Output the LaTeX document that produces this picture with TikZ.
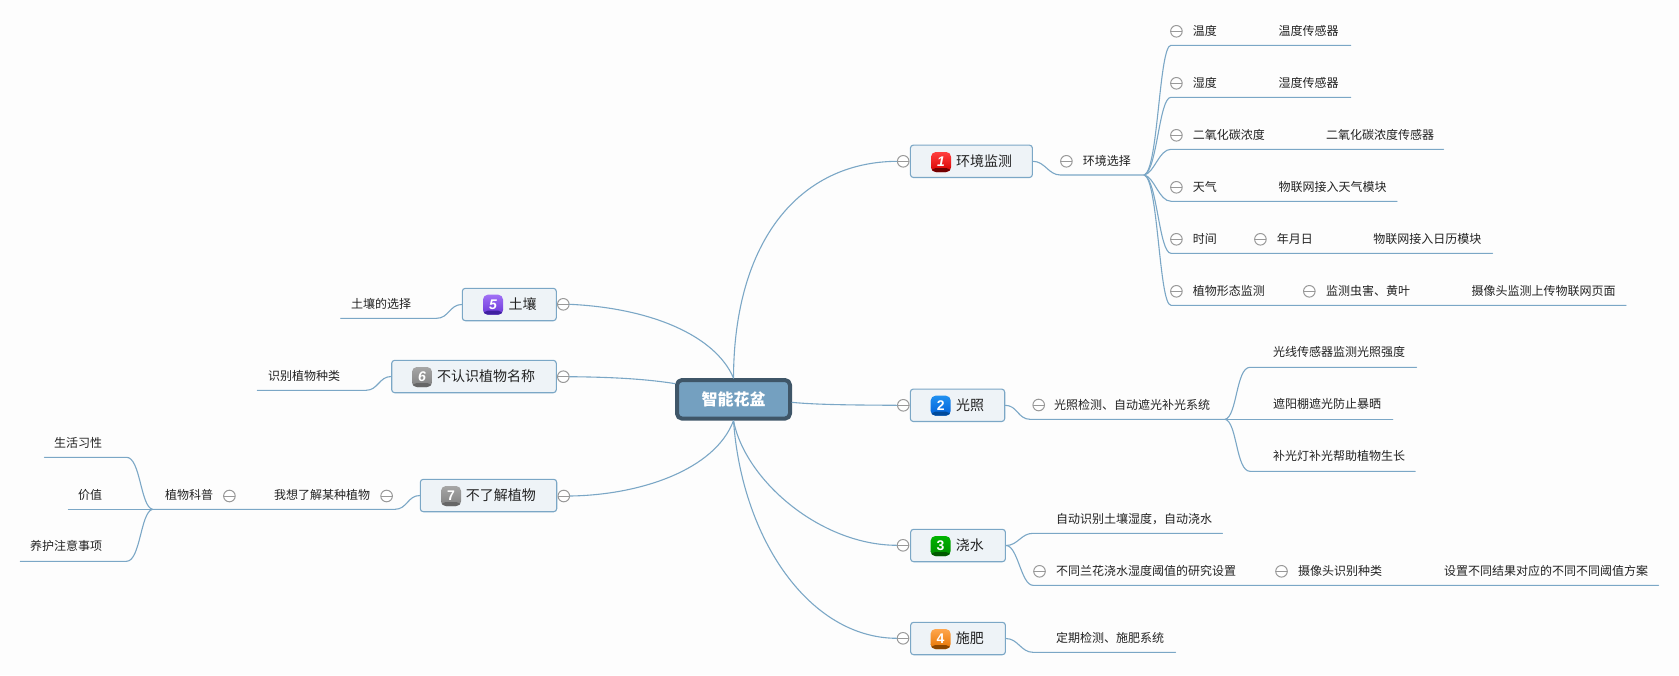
\documentclass[tikz,border=0pt]{standalone}
\usepackage{fontspec}
\setmainfont{Noto Sans CJK SC}
\newfontfamily\iconfont{Liberation Sans}
\definecolor{paper}{HTML}{FDFDFD}
\definecolor{wire}{HTML}{7BA7C6}
\definecolor{rootfill}{HTML}{74A0C0}
\definecolor{rootedge}{HTML}{3F5668}
\definecolor{boxfill}{HTML}{EEF3F7}
\definecolor{inktext}{HTML}{222222}
\definecolor{bluetop}{HTML}{2090F0}
\definecolor{bluelow}{HTML}{0060D8}
\definecolor{blueband}{HTML}{004A9A}
\definecolor{violettop}{HTML}{A070F5}
\definecolor{violetlow}{HTML}{6A35D8}
\definecolor{violetband}{HTML}{4020A0}
\tikzset{
  wireline/.style={line width=0.55pt,color=wire},
  rootbox/.style={draw=rootedge,fill=rootfill,line width=2pt,rounded corners=2.5pt,minimum width=56.5pt,minimum height=19.3pt,inner sep=0pt,text=white,font=\bfseries\fontsize{8}{8}\selectfont},
  mainbox/.style={draw=wire,fill=boxfill,line width=0.55pt,rounded corners=1.5pt,minimum height=16.2pt,inner sep=0pt},
  mainlabel/.style={anchor=west,inner sep=0pt,text=inktext,font=\fontsize{7}{7}\selectfont,text height=5.8pt,text depth=0.8pt},
  leaflabel/.style={anchor=west,inner sep=0pt,text=inktext,font=\fontsize{6}{6}\selectfont,text height=5pt,text depth=0.7pt},
  leftlabel/.style={leaflabel,anchor=east},
  minusmark/.style={circle,draw=gray!80,fill=white,line width=0.5pt,minimum size=5.8pt,inner sep=0pt,
    path picture={\draw[gray!80,line width=0.5pt] (path picture bounding box.west)--(path picture bounding box.east);}},
  iconmark/.style n args={3}{rounded corners=2.4pt,minimum size=10pt,inner sep=0pt,top color=#1,bottom color=#2,text=white,font=\iconfont\bfseries\fontsize{7}{7}\selectfont,
    path picture={\fill[#3] ([yshift=2pt]path picture bounding box.south west) rectangle (path picture bounding box.south east);}}
}
\begin{document}
\begin{tikzpicture}[line cap=round,line join=round,x=0.5pt,y=-0.5pt]
	\useasboundingbox (0,0) rectangle (1679,675);
	\fill[paper] (0,0) rectangle (1679,675);

	% root and main boxes
	\node[rootbox] (root) at (733.5,399.3) {智能花盆};
	\node[mainbox,minimum width=61pt] (env) at (971.4,161.3) {};
	\node[mainbox,minimum width=47.2pt] (light) at (957.5,405.3) {};
	\node[mainbox,minimum width=47.4pt] (water) at (958,545.5) {};
	\node[mainbox,minimum width=47.4pt] (fert) at (958,638.5) {};
	\node[mainbox,minimum width=47pt] (soil) at (509.3,304.5) {};
	\node[mainbox,minimum width=82.3pt] (name) at (474,376.5) {};
	\node[mainbox,minimum width=68.2pt] (know) at (488.5,495.5) {};

	\node[iconmark={red!75!white}{red!85!black}{red!45!black}] (ienv) at (941,162) {\itshape 1};
	\node[iconmark={bluetop}{bluelow}{blueband}] (ilight) at (940.7,405.7) {2};
	\node[iconmark={green!70!black}{green!55!black}{green!35!black}] (iwater) at (940.6,546) {3};
	\node[iconmark={orange!70!white}{orange!90!black}{orange!55!black}] (ifert) at (940.6,639) {4};
	\node[iconmark={violettop}{violetlow}{violetband}] (isoil) at (493,304.7) {\itshape 5};
	\node[iconmark={gray!70}{gray}{black!60}] (iname) at (422,377) {\itshape 6};
	\node[iconmark={gray!70}{gray}{black!60}] (iknow) at (451,496) {7};

	\node[mainlabel] (tenv) at (955.7,161) {环境监测};
	\node[mainlabel] (tlight) at (955.7,405) {光照};
	\node[mainlabel] (twater) at (955.4,545) {浇水};
	\node[mainlabel] (tfert) at (955.4,638) {施肥};
	\node[mainlabel] (tsoil) at (508.3,304) {土壤};
	\node[mainlabel] (tname) at (436.7,376) {不认识植物名称};
	\node[mainlabel] (tknow) at (465.4,495) {不了解植物};

	% collapse marks beside the boxes
	\node[minusmark] (menv) at (903.2,161.3) {};
	\node[minusmark] (mlight) at (903.3,405.3) {};
	\node[minusmark] (mwater) at (903,545.3) {};
	\node[minusmark] (mfert) at (903,638.3) {};
	\node[minusmark] (msoil) at (563.3,304.3) {};
	\node[minusmark] (mname) at (563.3,376.7) {};
	\node[minusmark] (mknow) at (563.8,496) {};

	% root to boxes
	\draw[wireline] (root.north) .. controls (734,240) and (800,162) .. (menv.west);
	\draw[wireline] (root.-3) .. controls (820,405) and (860,405) .. (mlight.west);
	\draw[wireline] (root.south) .. controls (745,480) and (820,545) .. (mwater.west);
	\draw[wireline] (root.south) .. controls (742,540) and (810,638) .. (mfert.west);
	\draw[wireline] (msoil.east) .. controls (650,308) and (715,335) .. (root.north);
	\draw[wireline] (mname.east) .. controls (600,377) and (640,378) .. (root.165);
	\draw[wireline] (mknow.east) .. controls (640,495) and (715,470) .. (root.south);

	% environment branch
	\node[leaflabel] (tpick) at (1082.5,161) {环境选择};
	\node[minusmark] (mpick) at (1066.4,161.3) {};
	\coordinate (pickstart) at (1060.4,175);
	\coordinate (pickhub) at (1144.3,175);
	\draw[wireline] (env.east) .. controls +(12,0) and +(-12,0) .. (pickstart) -- (pickhub);

	\node[minusmark] (m1) at (1176.4,31.3) {};
	\node[leaflabel] (t1) at (1192.5,31) {温度};
	\node[leaflabel] (u1) at (1278.2,31) {温度传感器};
	\coordinate (a1) at (1171,45.3);
	\coordinate (b1) at (1350.7,45.3);
	\draw[wireline] (pickhub) .. controls +(14,-5) and +(-12,0) .. (a1) -- (b1);

	\node[minusmark] (m2) at (1176.4,83.3) {};
	\node[leaflabel] (t2) at (1192.5,83) {湿度};
	\node[leaflabel] (u2) at (1278.2,83) {湿度传感器};
	\coordinate (a2) at (1171,97.3);
	\coordinate (b2) at (1350.7,97.3);
	\draw[wireline] (pickhub) .. controls +(13,-5) and +(-12,0) .. (a2) -- (b2);

	\node[minusmark] (m3) at (1176.4,135.3) {};
	\node[leaflabel] (t3) at (1192.5,135) {二氧化碳浓度};
	\node[leaflabel] (u3) at (1325.7,135) {二氧化碳浓度传感器};
	\coordinate (a3) at (1171,149.3);
	\coordinate (b3) at (1443.6,149.3);
	\draw[wireline] (pickhub) .. controls +(10,-2) and +(-12,0) .. (a3) -- (b3);

	\node[minusmark] (m4) at (1176.4,187.3) {};
	\node[leaflabel] (t4) at (1192.5,187) {天气};
	\node[leaflabel] (u4) at (1278.2,187) {物联网接入天气模块};
	\coordinate (a4) at (1171,201.3);
	\coordinate (b4) at (1397,201.3);
	\draw[wireline] (pickhub) .. controls +(10,2) and +(-12,0) .. (a4) -- (b4);

	\node[minusmark] (m5) at (1176.4,239.3) {};
	\node[leaflabel] (t5) at (1192.5,239) {时间};
	\node[minusmark] (n5) at (1260.4,239.3) {};
	\node[leaflabel] (u5) at (1276.4,239) {年月日};
	\node[leaflabel] (v5) at (1373,239) {物联网接入日历模块};
	\coordinate (a5) at (1171,253.3);
	\coordinate (b5) at (1492.5,253.3);
	\draw[wireline] (pickhub) .. controls +(13,5) and +(-12,0) .. (a5) -- (b5);

	\node[minusmark] (m6) at (1176.4,291.3) {};
	\node[leaflabel] (t6) at (1192.5,291) {植物形态监测};
	\node[minusmark] (n6) at (1309.3,291.3) {};
	\node[leaflabel] (u6) at (1325.7,291) {监测虫害、黄叶};
	\node[leaflabel] (v6) at (1471.2,291) {摄像头监测上传物联网页面};
	\coordinate (a6) at (1171,305.3);
	\coordinate (b6) at (1626,305.3);
	\draw[wireline] (pickhub) .. controls +(14,5) and +(-12,0) .. (a6) -- (b6);

	% light branch
	\node[minusmark] (mlamp) at (1038.7,405) {};
	\node[leaflabel] (tlamp) at (1053.7,405) {光照检测、自动遮光补光系统};
	\coordinate (lampstart) at (1030,419.3);
	\coordinate (lamphub) at (1225.2,419.3);
	\draw[wireline] (light.east) .. controls +(12,0) and +(-12,0) .. (lampstart) -- (lamphub);

	\node[leaflabel] (l1) at (1272.6,352.3) {光线传感器监测光照强度};
	\coordinate (c1) at (1250,367.3);
	\coordinate (d1) at (1416.6,367.3);
	\draw[wireline] (lamphub) .. controls +(12,-3) and +(-14,0) .. (c1) -- (d1);

	\node[leaflabel] (l2) at (1272.6,404.3) {遮阳棚遮光防止暴晒};
	\coordinate (d2) at (1392.7,419.3);
	\draw[wireline] (lamphub) -- (d2);

	\node[leaflabel] (l3) at (1272.6,456.3) {补光灯补光帮助植物生长};
	\coordinate (c3) at (1250,471.3);
	\coordinate (d3) at (1415.2,471.3);
	\draw[wireline] (lamphub) .. controls +(12,3) and +(-14,0) .. (c3) -- (d3);

	% water branch
	\node[leaflabel] (w1) at (1055.8,519) {自动识别土壤湿度，自动浇水};
	\coordinate (e1) at (1033,533.3);
	\coordinate (f1) at (1222.4,533.3);
	\draw[wireline] (water.east) .. controls +(12,0) and +(-12,0) .. (e1) -- (f1);

	\node[minusmark] (m7) at (1039.5,571.3) {};
	\node[leaflabel] (w2) at (1055.8,571) {不同兰花浇水湿度阈值的研究设置};
	\node[minusmark] (n7) at (1281.5,571.3) {};
	\node[leaflabel] (w3) at (1297.8,571) {摄像头识别种类};
	\node[leaflabel] (w4) at (1443.6,571) {设置不同结果对应的不同不同阈值方案};
	\coordinate (e2) at (1033,585.3);
	\coordinate (f2) at (1658.6,585.3);
	\draw[wireline] (water.east) .. controls +(12,0) and +(-12,0) .. (e2) -- (f2);

	% fertiliser branch
	\node[leaflabel] (g1) at (1055.8,638) {定期检测、施肥系统};
	\coordinate (h1) at (1033,652.3);
	\coordinate (k1) at (1175.5,652.3);
	\draw[wireline] (fert.east) .. controls +(12,0) and +(-12,0) .. (h1) -- (k1);

	% left side
	\node[leaflabel] (s1) at (350.7,303.7) {土壤的选择};
	\coordinate (p1) at (436.7,318.3);
	\coordinate (q1) at (340.7,318.3);
	\draw[wireline] (soil.west) .. controls +(-12,0) and +(12,0) .. (p1) -- (q1);

	\node[leaflabel] (s2) at (267.7,376) {识别植物种类};
	\coordinate (p2) at (366,390.3);
	\coordinate (q2) at (257.3,390.3);
	\draw[wireline] (name.west) .. controls +(-12,0) and +(12,0) .. (p2) -- (q2);

	\node[minusmark] (m8) at (386.6,496) {};
	\node[leaflabel] (s3) at (273.8,495) {我想了解某种植物};
	\node[minusmark] (n8) at (229.4,496) {};
	\node[leaflabel] (s4) at (164.6,495) {植物科普};
	\coordinate (p3) at (395,509.3);
	\coordinate (plantshub) at (152.4,509.3);
	\draw[wireline] (know.west) .. controls +(-12,0) and +(12,0) .. (p3) -- (plantshub);

	\node[leftlabel] (r1) at (102.5,442.7) {生活习性};
	\coordinate (x1) at (126.5,457.3);
	\coordinate (y1) at (44.4,457.3);
	\draw[wireline] (plantshub) .. controls +(-12,-3) and +(14,0) .. (x1) -- (y1);

	\node[leftlabel] (r2) at (102.5,494.7) {价值};
	\coordinate (y2) at (68.4,509.3);
	\draw[wireline] (plantshub) -- (y2);

	\node[leftlabel] (r3) at (102.5,546.3) {养护注意事项};
	\coordinate (x3) at (126.5,561.3);
	\coordinate (y3) at (20.3,561.3);
	\draw[wireline] (plantshub) .. controls +(-12,3) and +(14,0) .. (x3) -- (y3);
\end{tikzpicture}
\end{document}
